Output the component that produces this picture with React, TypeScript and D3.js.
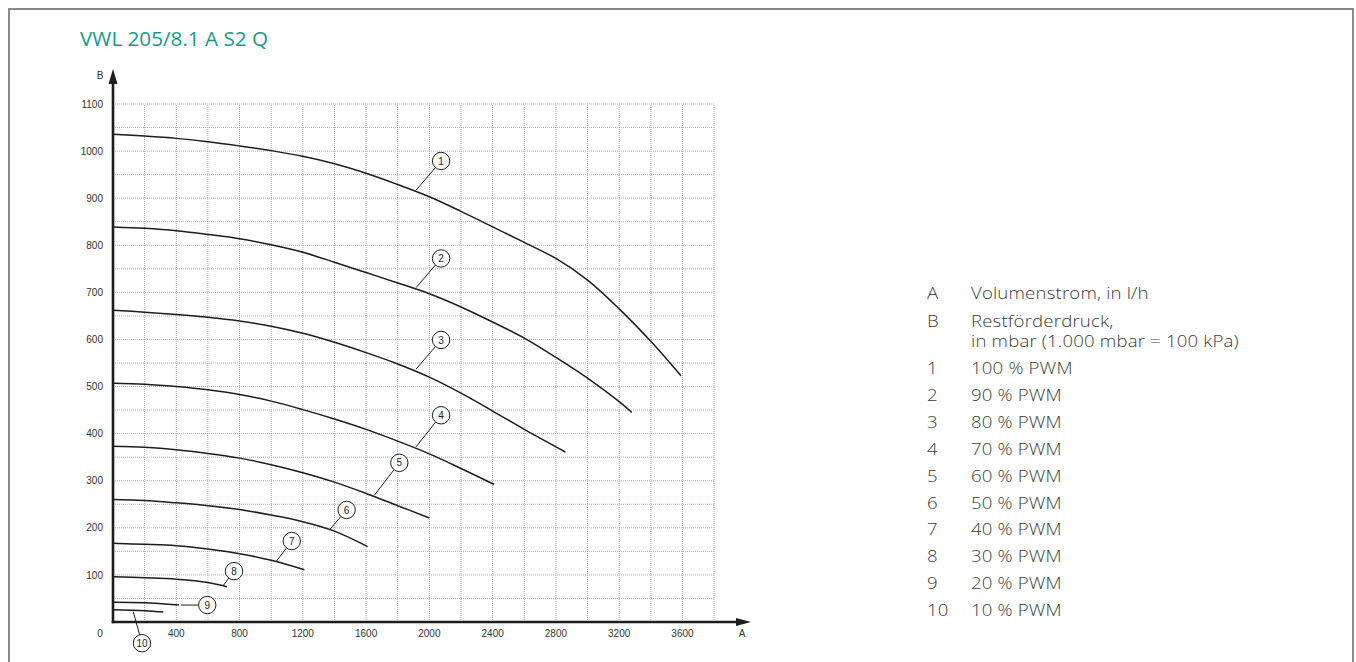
import React from "react";
import * as d3 from "d3";

const title = "VWL 205/8.1 A S2 Q";

const xTicks = [400, 800, 1200, 1600, 2000, 2400, 2800, 3200, 3600];
const yTicks = [100, 200, 300, 400, 500, 600, 700, 800, 900, 1000, 1100];
const xGrid = d3.range(200, 3801, 200);
const yGrid = d3.range(50, 1101, 50);

const curve1: [number, number][] = [[0, 1036], [200, 1032], [400, 1027], [600, 1020], [800, 1011], [1000, 1001], [1200, 989], [1400, 973], [1600, 953], [1800, 929], [2000, 903], [2200, 872], [2400, 839], [2600, 806], [2800, 772], [3000, 726], [3200, 665], [3400, 596], [3590, 523]];
const curve2: [number, number][] = [[0, 839], [200, 836], [400, 831], [600, 823], [800, 814], [1000, 801], [1200, 785], [1400, 764], [1600, 742], [1800, 720], [2000, 697], [2200, 669], [2400, 637], [2600, 603], [2800, 562], [3000, 518], [3200, 468], [3280, 445]];
const curve3: [number, number][] = [[0, 662], [200, 658], [400, 653], [600, 647], [800, 639], [1000, 628], [1200, 613], [1400, 594], [1600, 572], [1800, 548], [2000, 520], [2200, 486], [2400, 448], [2600, 409], [2860, 361]];
const curve4: [number, number][] = [[0, 507], [200, 505], [400, 500], [600, 493], [800, 483], [1000, 469], [1200, 451], [1400, 431], [1600, 409], [1800, 384], [2000, 357], [2200, 326], [2410, 292]];
const curve5: [number, number][] = [[0, 373], [200, 371], [400, 366], [600, 358], [800, 348], [1000, 334], [1200, 317], [1400, 297], [1600, 273], [1800, 247], [2000, 221]];
const curve6: [number, number][] = [[0, 260], [200, 258], [400, 253], [600, 247], [800, 239], [1000, 227], [1200, 213], [1400, 193], [1610, 160]];
const curve7: [number, number][] = [[0, 167], [200, 165], [400, 162], [600, 155], [800, 145], [1000, 131], [1210, 111]];
const curve8: [number, number][] = [[0, 96], [200, 94], [400, 91], [600, 84], [720, 75]];
const curve9: [number, number][] = [[0, 42], [200, 41], [417, 36]];
const curve10: [number, number][] = [[0, 26], [200, 24], [318, 21]];
const curves = [curve1, curve2, curve3, curve4, curve5, curve6, curve7, curve8, curve9, curve10];

// callout: label, circle centre (x, y), leader end (x, y)
const callouts: [string, number, number, number, number][] = [
  ["1", 2074, 979, 1916, 917],
  ["2", 2074, 772, 1916, 710],
  ["3", 2074, 599, 1916, 537],
  ["4", 2074, 439, 1916, 372],
  ["5", 1810, 338, 1652, 269],
  ["6", 1477, 238, 1372, 197],
  ["7", 1130, 172, 1030, 128],
  ["8", 765, 108, 698, 78],
  ["9", 596, 36, 430, 36],
  ["10", 183, -45, 128, 22],
];

const legendKeys = ["A", "B", "", "1", "2", "3", "4", "5", "6", "7", "8", "9", "10"];
const legendTexts = [
  "Volumenstrom, in l/h",
  "Restförderdruck,",
  "in mbar (1.000 mbar = 100 kPa)",
  "100 % PWM",
  "90 % PWM",
  "80 % PWM",
  "70 % PWM",
  "60 % PWM",
  "50 % PWM",
  "40 % PWM",
  "30 % PWM",
  "20 % PWM",
  "10 % PWM",
];
const legendBaselines = [299, 326.7, 347, 374.3, 401.2, 428, 454.9, 481.8, 508.6, 535.5, 562.3, 589.2, 616];

export default function App() {
  const x = d3.scaleLinear().domain([0, 3800]).range([113, 714.1]);
  const y = d3.scaleLinear().domain([0, 1100]).range([622, 104]);
  const line = d3
    .line<[number, number]>()
    .x((d) => x(d[0]))
    .y((d) => y(d[1]))
    .curve(d3.curveCatmullRom.alpha(0.5));
  const r = 8.7;
  const tickFont = "'Liberation Sans', Arial, sans-serif";
  const lightFont = "'Open Sans', sans-serif";

  return (
    <svg
      width={1356}
      height={662}
      style={{ position: "absolute", left: 0, top: 0, background: "#fff" }}
    >
      <rect x={9} y={9} width={1344} height={700} fill="none" stroke="#6e6e6e" strokeWidth={1.6} />
      <text x={80} y={45.7} fill="#17998a" fontFamily={lightFont} fontSize={19.5} textLength={188} lengthAdjust="spacingAndGlyphs">
        {title}
      </text>

      {/* grid */}
      <g stroke="#9a9a9a" strokeWidth={0.8} strokeDasharray="1,1">
        {xGrid.map((v) => (
          <line key={"gx" + v} x1={x(v)} x2={x(v)} y1={y(0)} y2={y(1100)} />
        ))}
        {yGrid.map((v) => (
          <line key={"gy" + v} x1={x(0)} x2={x(3800)} y1={y(v)} y2={y(v)} />
        ))}
      </g>

      {/* curves */}
      <g fill="none" stroke="#1d1d1d" strokeWidth={1.5}>
        {curves.map((c, i) => (
          <path key={"c" + i} d={line(c) || ""} />
        ))}
      </g>

      {/* callouts */}
      <g>
        {callouts.map(([lab, cx, cy, ax, ay]) => {
          const px = x(cx), py = y(cy), qx = x(ax), qy = y(ay);
          const dx = qx - px, dy = qy - py;
          const len = Math.sqrt(dx * dx + dy * dy);
          const ex = px + (dx / len) * r, ey = py + (dy / len) * r;
          return (
            <g key={"l" + lab}>
              <line x1={qx} y1={qy} x2={ex} y2={ey} stroke="#1d1d1d" strokeWidth={1} />
              <circle cx={px} cy={py} r={r} fill="#fff" stroke="#1d1d1d" strokeWidth={1} />
              <text x={px} y={py + 3.6} textAnchor="middle" fontFamily={tickFont} fontSize={10} fill="#222">
                {lab}
              </text>
            </g>
          );
        })}
      </g>

      {/* axes */}
      <g stroke="#1d1d1d" strokeWidth={2.6}>
        <line x1={x(0)} x2={x(0)} y1={y(0) + 1.3} y2={80} />
        <line x1={x(0) - 1.3} x2={738} y1={y(0)} y2={y(0)} />
      </g>
      <path d={`M${x(0)},69 L${x(0) + 4.5},84 L${x(0) - 4.5},84 Z`} fill="#1d1d1d" />
      <path d={`M751,${y(0)} L736,${y(0) - 4} L736,${y(0) + 4} Z`} fill="#1d1d1d" />

      {/* tick labels */}
      <g fontFamily={tickFont} fontSize={10} fill="#333">
        {yTicks.map((v) => (
          <text key={"yt" + v} x={103} y={y(v) + 3.6} textAnchor="end">
            {v}
          </text>
        ))}
        {xTicks.map((v) => (
          <text key={"xt" + v} x={x(v)} y={637} textAnchor="middle">
            {v}
          </text>
        ))}
        <text x={100} y={637} textAnchor="middle">0</text>
        <text x={742} y={637} textAnchor="middle">A</text>
        <text x={100} y={78.5} textAnchor="middle">B</text>
      </g>

      {/* legend */}
      <g fontFamily={lightFont} fontSize={15.5} fill="#3a3a3a" fontWeight={300} letterSpacing={0.15}>
        <g transform="translate(927,0) scale(1.2,1)">
          {legendKeys.map((k, i) => (
            <text key={"lk" + i} x={0} y={legendBaselines[i]}>
              {k}
            </text>
          ))}
        </g>
        <g transform="translate(971,0) scale(1.2,1)">
          {legendTexts.map((t, i) => (
            <text key={"lt" + i} x={0} y={legendBaselines[i]}>
              {t}
            </text>
          ))}
        </g>
      </g>
    </svg>
  );
}
